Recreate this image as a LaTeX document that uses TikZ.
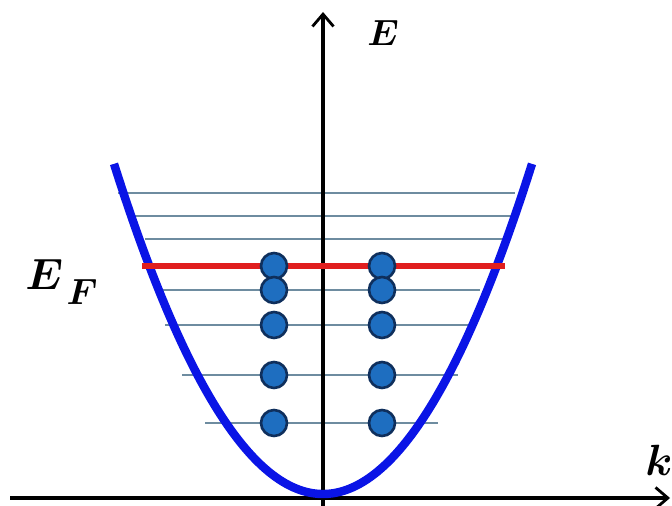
\documentclass[tikz,border=0pt]{standalone}
\usepackage{amsmath,bm}
\usetikzlibrary{arrows.meta}
\definecolor{band}{HTML}{0A14E6}
\definecolor{lvl}{HTML}{6E8CA0}
\definecolor{fermi}{HTML}{E01E1E}
\definecolor{dotfill}{HTML}{1E6EC0}
\definecolor{dotedge}{HTML}{0F2F5C}
\tikzset{
  axis/.style={line width=2.3pt,-{Straight Barb[length=7pt,width=12pt,line width=1.6pt]}},
  level/.style={line width=1.1pt,lvl},
  fermiline/.style={line width=3pt,fermi},
  electron/.style={circle,fill=dotfill,draw=dotedge,line width=1.5pt,minimum size=0.52cm,inner sep=0pt},
  lbl/.style={inner sep=0pt}
}
\begin{document}
\begin{tikzpicture}[x=0.02cm,y=-0.02cm]
\useasboundingbox (0,0) rectangle (672,506);
% axes
\coordinate (xs) at (10,498);
\coordinate (xe) at (670,498);
\coordinate (ys) at (323,506);
\coordinate (ye) at (323,12);
\draw[axis] (xs) -- (xe);
% levels
\draw[level] (118,193) -- (515,193);
\draw[level] (130,216) -- (515,216);
\draw[level] (145,239) -- (503,239);
\draw[level] (155,290) -- (480,290);
\draw[level] (165,325) -- (470,325);
\draw[level] (182,375) -- (458,375);
\draw[level] (205,423) -- (438,423);
\draw[axis] (ys) -- (ye);
% band
\draw[band,line width=4.8pt] plot[domain=-209:209,samples=120,smooth] ({323+\x},{494-327*(\x/208)^2});
% Fermi level
\draw[fermiline] (142,266) -- (505,266);
% electrons
\foreach \n/\yy in {a/266,b/290,c/325,d/375,e/423}{
  \node[electron] (L\n) at (274,\yy) {};
  \node[electron] (R\n) at (382,\yy) {};
}
% labels
\node[lbl] (lE) at (383,33) {\fontsize{22}{24}\selectfont$\bm{E}$};
\node[lbl] (lk) at (659,460) {\fontsize{23}{25}\selectfont$\bm{k}$};
\node[lbl,anchor=base west] (lEF) at (25,290) {\fontsize{28}{30}\selectfont$\bm{E}$\kern2pt\raisebox{-8pt}{\fontsize{21}{23}\selectfont$\bm{F}$}};
\end{tikzpicture}
\end{document}
